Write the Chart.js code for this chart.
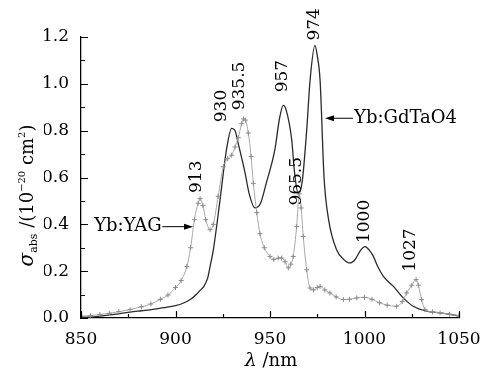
<!DOCTYPE html>
<html>
<head>
<meta charset="utf-8">
<script src="https://cdn.jsdelivr.net/npm/chart.js@4"></script>
<style>
    html, body { margin: 0; padding: 0; background: #fff; }
    #abs-chart { display: block; }
</style>
</head>
<body>
<canvas id="abs-chart" width="496" height="372"></canvas>
<script>
// 吸收截面光譜 Yb:GdTaO4 vs Yb:YAG

const wavelengthGd = [850, 855, 860, 865, 870, 876, 882, 888, 894, 900, 904, 908, 911, 913, 915, 917, 918.3, 920, 923.5, 927, 929.7, 931.5, 933.2, 936.8, 939, 942, 945, 948, 952.6, 955, 957, 958.5, 961.5, 963, 965, 967, 969.4, 971.2, 973.8, 975, 976.5, 978.6, 981, 985.3, 989, 992.3, 995, 998, 1000.3, 1002.5, 1004.7, 1007, 1010, 1015.3, 1020.5, 1025.8, 1032.9, 1040, 1045, 1050];
const sigmaGd = [0.003, 0.004, 0.008, 0.013, 0.018, 0.025, 0.031, 0.037, 0.044, 0.053, 0.063, 0.08, 0.1, 0.118, 0.135, 0.17, 0.22, 0.29, 0.5, 0.72, 0.81, 0.8, 0.745, 0.62, 0.53, 0.47, 0.49, 0.575, 0.72, 0.85, 0.908, 0.89, 0.76, 0.62, 0.53, 0.58, 0.8, 1.015, 1.164, 1.12, 1.015, 0.6, 0.42, 0.29, 0.25, 0.235, 0.25, 0.29, 0.305, 0.29, 0.263, 0.22, 0.178, 0.135, 0.086, 0.05, 0.029, 0.022, 0.016, 0.008];

const wavelengthYag = [850, 855, 860, 865, 870, 876, 882, 887, 892, 896, 900, 903, 906, 908, 910, 912, 913, 914.5, 916, 918.3, 920, 922.6, 925.3, 927.5, 929.7, 931.5, 933.2, 935, 936, 937, 938.5, 940, 941.2, 943, 944.7, 947, 950, 952, 954.4, 956.2, 958, 959.7, 961, 962.3, 964.1, 965.5, 966.5, 967.6, 969.4, 971.2, 973, 975, 976.5, 979, 981.7, 985, 988.8, 992, 995.9, 1000, 1004, 1008, 1012, 1017, 1020, 1022.3, 1025, 1027.3, 1028.5, 1030.2, 1032, 1036, 1040, 1045, 1050];
const sigmaYag = [0.008, 0.01, 0.015, 0.02, 0.027, 0.036, 0.048, 0.06, 0.08, 0.098, 0.13, 0.16, 0.22, 0.3, 0.42, 0.49, 0.51, 0.48, 0.42, 0.377, 0.4, 0.52, 0.646, 0.68, 0.695, 0.73, 0.77, 0.83, 0.85, 0.845, 0.79, 0.69, 0.575, 0.45, 0.36, 0.3, 0.263, 0.25, 0.256, 0.256, 0.24, 0.214, 0.23, 0.263, 0.39, 0.53, 0.47, 0.348, 0.206, 0.128, 0.12, 0.13, 0.135, 0.12, 0.107, 0.09, 0.079, 0.08, 0.086, 0.088, 0.08, 0.065, 0.055, 0.05, 0.07, 0.107, 0.14, 0.164, 0.14, 0.079, 0.036, 0.026, 0.022, 0.016, 0.01];

const peakLabels = ['913', '930', '935.5', '957', '974', '965.5', '1000', '1027'];
const peakAt = [911.4, 924.6, 934.1, 956.9, 973.6, 963.8, 1000.3, 1024.6];
const peakBase = [0.534, 0.836, 0.887, 0.964, 1.185, 0.48, 0.32, 0.198];

const SERIF = "'DejaVu Serif', 'Liberation Serif', serif";
const FS = 17;

function toPoints(xs, ys) {
    return xs.map((x, i) => ({ x: x, y: ys[i] }));
}

// 向內的刻度線
const innerTicks = {
    id: 'innerTicks',
    afterDraw(chart) {
        const ctx = chart.ctx;
        const xs = chart.scales.x;
        const ys = chart.scales.y;
        ctx.save();
        ctx.strokeStyle = '#000';
        ctx.lineWidth = 1.2;
        ctx.beginPath();
        for (let i = 0; i <= 12; i++) {
            const py = Math.round(ys.getPixelForValue(i / 10)) + 0.5;
            const len = i % 2 === 0 ? 7 : 4;
            ctx.moveTo(xs.left, py);
            ctx.lineTo(xs.left + len, py);
        }
        for (let v = 850; v <= 1050; v += 25) {
            const px = Math.round(xs.getPixelForValue(v)) + 0.5;
            const len = v % 50 === 0 ? 7 : 4;
            ctx.moveTo(px, ys.bottom);
            ctx.lineTo(px, ys.bottom - len);
        }
        ctx.stroke();
        ctx.restore();
    },
};

function arrow(ctx, x0, y, x1) {
    const dir = x1 > x0 ? 1 : -1;
    ctx.beginPath();
    ctx.moveTo(x0, y);
    ctx.lineTo(x1 - dir * 6, y);
    ctx.stroke();
    ctx.beginPath();
    ctx.moveTo(x1, y);
    ctx.lineTo(x1 - dir * 9, y - 3);
    ctx.lineTo(x1 - dir * 9, y + 3);
    ctx.closePath();
    ctx.fill();
}

// 標註、箭頭與座標軸標題
const notes = {
    id: 'notes',
    afterDraw(chart) {
        const ctx = chart.ctx;
        const xs = chart.scales.x;
        const ys = chart.scales.y;
        ctx.save();
        ctx.fillStyle = '#000';
        ctx.strokeStyle = '#000';
        ctx.lineWidth = 1;

        // 峰值標籤（旋轉）
        ctx.font = FS + 'px ' + SERIF;
        ctx.textAlign = 'left';
        ctx.textBaseline = 'middle';
        peakLabels.forEach((txt, i) => {
            ctx.save();
            ctx.translate(xs.getPixelForValue(peakAt[i]), ys.getPixelForValue(peakBase[i]));
            ctx.rotate(-Math.PI / 2);
            ctx.fillText(txt, 0, 0);
            ctx.restore();
        });

        // Yb:GdTaO4
        ctx.font = '18px ' + SERIF;
        let y = ys.getPixelForValue(0.853);
        arrow(ctx, xs.getPixelForValue(993.9), y, xs.getPixelForValue(979.1));
        ctx.textAlign = 'left';
        ctx.fillText('Yb:GdTaO4', xs.getPixelForValue(994.5), y);

        // Yb:YAG
        y = ys.getPixelForValue(0.39);
        arrow(ctx, xs.getPixelForValue(893), y, xs.getPixelForValue(909.3));
        ctx.textAlign = 'right';
        ctx.fillText('Yb:YAG', xs.getPixelForValue(892.6), y);

        // x 軸標題
        const xt = [['λ', 'italic 19px ' + SERIF], [' /nm', '18px ' + SERIF]];
        let w = 0;
        xt.forEach(([t, f]) => { ctx.font = f; w += ctx.measureText(t).width; });
        let cx = (xs.left + xs.right) / 2 + 1 - w / 2;
        ctx.textAlign = 'left';
        ctx.textBaseline = 'alphabetic';
        xt.forEach(([t, f]) => {
            ctx.font = f;
            ctx.fillText(t, cx, 366);
            cx += ctx.measureText(t).width;
        });

        // y 軸標題
        const parts = [
            ['σ', 'italic 20px ' + SERIF, 0],
            ['abs', '11px ' + SERIF, 4],
            [' /(10', '18px ' + SERIF, 0],
            ['−20', '10px ' + SERIF, -8],
            [' cm', '18px ' + SERIF, 0],
            ['2', '10px ' + SERIF, -8],
            [')', '18px ' + SERIF, 0],
        ];
        w = 0;
        parts.forEach(([t, f]) => { ctx.font = f; w += ctx.measureText(t).width; });
        ctx.save();
        ctx.translate(33, (ys.top + ys.bottom) / 2 + 18 + w / 2);
        ctx.rotate(-Math.PI / 2);
        let pos = 0;
        parts.forEach(([t, f, dy]) => {
            ctx.font = f;
            ctx.fillText(t, pos, dy);
            pos += ctx.measureText(t).width;
        });
        ctx.restore();

        ctx.restore();
    },
};

function drawChart() {
    new Chart(document.getElementById('abs-chart'), {
        type: 'line',
        data: {
            datasets: [
                {
                    label: 'Yb:YAG',
                    data: toPoints(wavelengthYag, sigmaYag),
                    borderColor: '#a8a8a8',
                    borderWidth: 1,
                    pointStyle: 'cross',
                    pointRadius: 2.5,
                    pointBorderColor: '#8c8c8c',
                    pointBorderWidth: 1,
                    cubicInterpolationMode: 'monotone',
                },
                {
                    label: 'Yb:GdTaO4',
                    data: toPoints(wavelengthGd, sigmaGd),
                    borderColor: '#2a2a2a',
                    borderWidth: 1.3,
                    pointRadius: 0,
                    cubicInterpolationMode: 'monotone',
                },
            ],
        },
        options: {
            responsive: false,
            animation: false,
            layout: {
                padding: { left: 44, right: 37, top: 37, bottom: 21 },
            },
            plugins: {
                legend: { display: false },
                tooltip: { enabled: false },
            },
            scales: {
                x: {
                    type: 'linear',
                    min: 850,
                    max: 1050,
                    afterFit(scale) { scale.height = 33; },
                    border: { display: true, color: '#000', width: 1.3 },
                    grid: { display: false, drawTicks: false },
                    ticks: {
                        stepSize: 50,
                        padding: 11,
                        color: '#000',
                        font: { family: SERIF, size: FS },
                        maxRotation: 0,
                        callback: (v) => String(v),
                    },
                },
                y: {
                    min: 0,
                    max: 1.2,
                    afterFit(scale) { scale.width = 37; },
                    border: { display: true, color: '#000', width: 1.3 },
                    grid: { display: false, drawTicks: false },
                    ticks: {
                        stepSize: 0.2,
                        padding: 12,
                        color: '#000',
                        font: { family: SERIF, size: FS },
                        callback: (v) => v.toFixed(1),
                    },
                },
            },
        },
        plugins: [innerTicks, notes],
    });
}

Promise.all([
    document.fonts.load("17px 'DejaVu Serif'"),
    document.fonts.load("italic 17px 'DejaVu Serif'"),
]).catch(() => null).then(drawChart);
</script>
</body>
</html>
